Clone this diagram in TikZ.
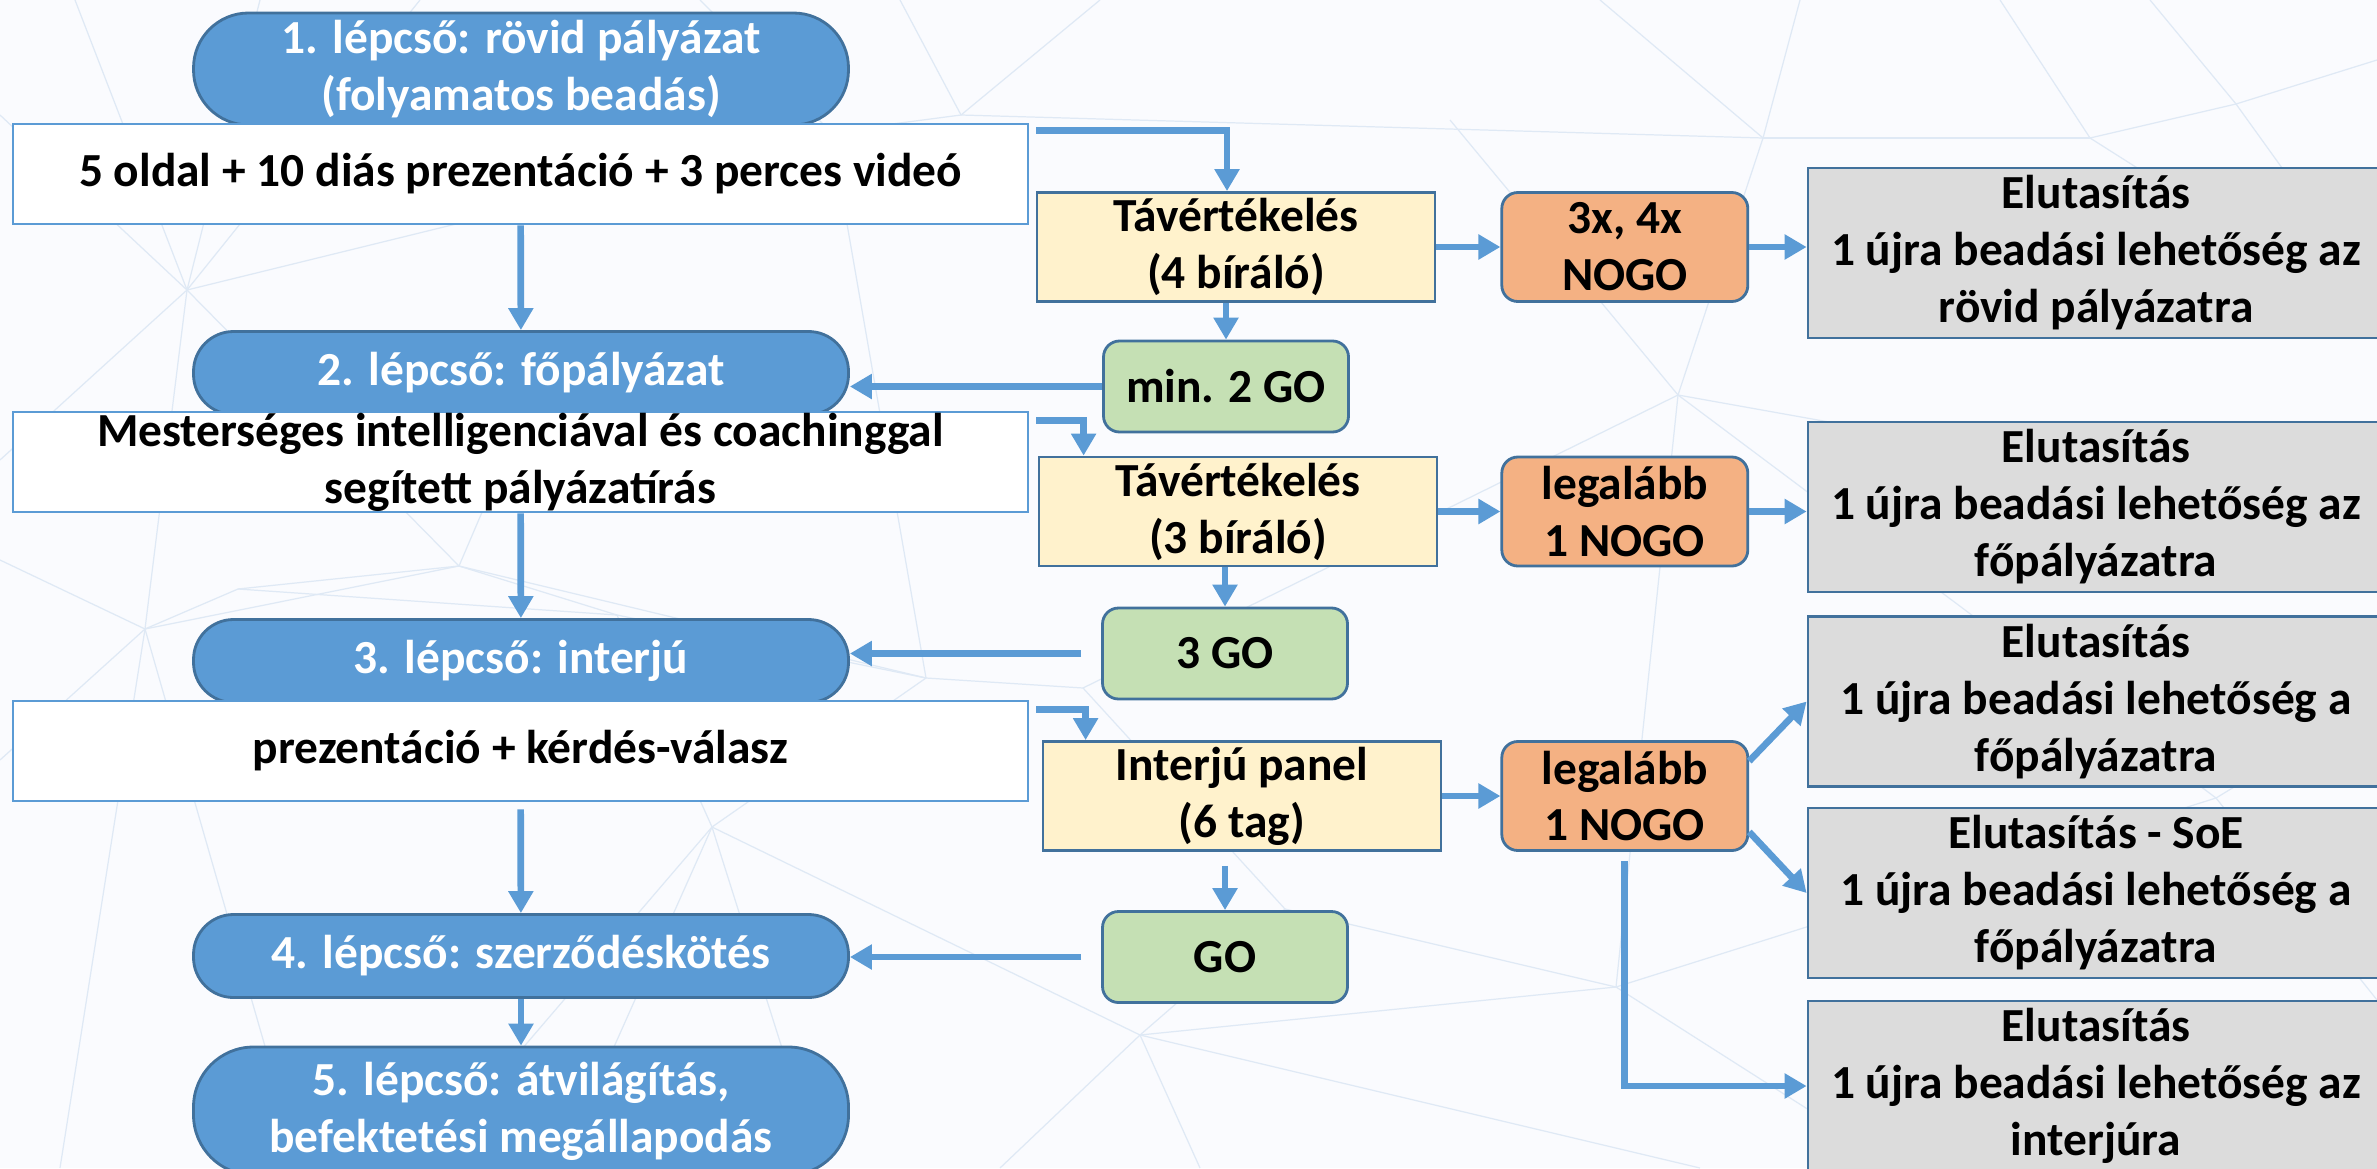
\documentclass[tikz,border=0pt]{standalone}
\usepackage{fontspec}
\setmainfont{Carlito}
\usepackage{tikz}
\usetikzlibrary{positioning,arrows.meta}

\definecolor{stageblue}{HTML}{5B9BD5}
\definecolor{frameblue}{HTML}{41719C}
\definecolor{reviewyellow}{HTML}{FFF2CC}
\definecolor{nogoorange}{HTML}{F4B183}
\definecolor{gogreen}{HTML}{C5E0B4}
\definecolor{rejectgray}{HTML}{DCDCDC}
\definecolor{paper}{HTML}{FAFBFE}
\definecolor{webblue}{HTML}{DFE9F5}

\begin{document}
\begin{tikzpicture}[x=0.1mm,y=-0.1mm,>={Triangle[length=2.2mm,width=2.4mm]},
                    font=\fontsize{13.5}{16.2}\selectfont\bfseries,
                    every node/.style={align=center,inner sep=0pt,line width=0.8pt},
                    stage/.style={draw=frameblue,fill=stageblue,text=white,rounded corners=4mm,
                                  minimum width=65.5mm,minimum height=8.3mm},
                    task/.style={draw=stageblue,fill=white,minimum width=101.5mm,minimum height=10mm},
                    review/.style={draw=frameblue,fill=reviewyellow,minimum width=39.8mm,minimum height=10.9mm},
                    nogo/.style={draw=frameblue,fill=nogoorange,rounded corners=1.6mm,
                                 minimum width=24.6mm,minimum height=10.9mm},
                    go/.style={draw=frameblue,fill=gogreen,rounded corners=1.6mm,
                               minimum width=24.5mm,minimum height=9.1mm},
                    reject/.style={draw=frameblue,fill=rejectgray,minimum width=57.6mm,minimum height=17mm},
                    webline/.style={draw=webblue,line width=0.35pt},
                    flow/.style={->,draw=stageblue,line width=1.9pt},
                    every edge/.style={flow}]

  \fill[paper] (0,0) rectangle (2377,1168);
  \useasboundingbox (0,0) rectangle (2377,1168);

  \coordinate (w1) at (187,290);   \coordinate (w2) at (145,629);
  \coordinate (w3) at (459,566);   \coordinate (w4) at (712,827);
  \coordinate (w5) at (926,678);   \coordinate (w6) at (1140,1035);
  \coordinate (w7) at (1763,138);  \coordinate (w8) at (2236,104);
  \coordinate (w9) at (2090,138);  \coordinate (w10) at (1678,395);
  \coordinate (w11) at (1616,987); \coordinate (w12) at (1285,909);
  \coordinate (w13) at (961,115);  \coordinate (w14) at (831,132);
  \coordinate (w15) at (1083,688); \coordinate (w16) at (2216,798);
  \coordinate (w17) at (238,589);  \coordinate (w18) at (617,615);
  \foreach \a/\b in {w1/{0,115},w1/{75,0},w1/{260,0},w1/{420,0},w1/{0,460},w1/w2,w1/w3,w1/w14,
                     w2/{0,560},w2/{0,760},w2/w17,w2/{60,1168},w2/{300,1168},w2/w3,
                     w17/w3,w17/w18,w3/w18,w3/{560,330},w3/w5,w18/w5,w18/w4,
                     w4/w5,w4/{420,1168},w4/{820,1168},w4/w6,w4/{560,1168},
                     w5/w15,w5/w14,w6/{1000,1168},w6/{1200,1168},w6/w12,w6/w11,w6/{1700,1168},
                     w12/w15,w12/w11,w15/w10,w11/{1900,1168},w11/w16,w11/w10,
                     w10/w7,w10/{1450,120},w10/w16,w10/{2377,520},
                     w7/{1600,0},w7/{1800,0},w7/w9,w9/w8,w9/{2377,320},w9/{2000,0},
                     w8/{2150,0},w8/{2377,60},w8/{2377,300},w16/{2377,700},w16/{2377,1000},
                     w13/w14,w13/{900,0},w13/{1100,0},w13/w7,w14/{700,0}}
    \draw[webline] (\a) -- (\b);

  \node[stage,rounded corners=5.5mm,minimum height=11.2mm] (step1) at (521,69) {1. lépcső: rövid pályázat\\(folyamatos beadás)};
  \node[task] (brief) at (520.5,174) {5 oldal + 10 diás prezentáció + 3 perces videó};
  \node[stage] (step2) at (521,373) {2. lépcső: főpályázat};
  \node[task] (mainapp) at (520.5,462) {Mesterséges intelligenciával és coachinggal\\segített pályázatírás};
  \node[stage] (step3) at (521,661) {3. lépcső: interjú};
  \node[task] (pitch) at (520.5,751) {prezentáció + kérdés-válasz};
  \node[stage] (step4) at (521,956) {4. lépcső: szerződéskötés};
  \node[stage,rounded corners=6mm,minimum height=12.8mm] (step5) at (521,1111) {5. lépcső: átvilágítás,\\befektetési megállapodás};

  \node[review] (review1) at (1236,247) {Távértékelés\\(4 bíráló)};
  \node[nogo] (nogo1) [right=6.4mm of review1] {3x, 4x\\NOGO};
  \node[reject] (reject1) at (2096,253) {Elutasítás\\1 újra beadási lehetőség az\\rövid pályázatra};
  \node[go] (go1) at (1226,386.5) {min. 2 GO};

  \node[review] (review2) at (1238,511.5) {Távértékelés\\(3 bíráló)};
  \node[nogo] (nogo2) [right=6.2mm of review2] {legalább\\1 NOGO};
  \node[reject] (reject2) at (2096,507) {Elutasítás\\1 újra beadási lehetőség az\\főpályázatra};
  \node[go] (go2) at (1225,653.5) {3 GO};

  \node[review] (review3) at (1242,796) {Interjú panel\\(6 tag)};
  \node[nogo] (nogo3) [right=5.8mm of review3] {legalább\\1 NOGO};
  \node[reject] (reject3) at (2096,701.5) {Elutasítás\\1 újra beadási lehetőség a\\főpályázatra};
  \node[reject] (reject4) at (2096,893) {Elutasítás - SoE\\1 újra beadási lehetőség a\\főpályázatra};
  \node[reject] (reject5) at (2096,1086) {Elutasítás\\1 újra beadási lehetőség az\\interjúra};
  \node[go] (go3) at (1225,957) {GO};

  \path (brief) edge (step2)
        (mainapp) edge (step3)
        (pitch) edge[shorten <=0.7mm] (step4)
        (step4) edge (step5)
        (review1) edge (nogo1)
        (nogo1.east) edge (nogo1.east -| reject1.west)
        (review1.south -| go1.north) edge (go1)
        (go1.west) edge (go1.west -| step2.east)
        (review2) edge (nogo2)
        (nogo2.east) edge (nogo2.east -| reject2.west)
        (review2.south -| go2.north) edge (go2)
        (go2.west) edge[shorten <=2mm] (go2.west -| step3.east)
        (review3) edge (nogo3)
        (review3.south -| go3.north) edge[shorten <=1.4mm] (go3)
        (go3.west) edge[shorten <=2mm] (go3.west -| step4.east)
        ([yshift=-2.1mm]nogo3.north east) edge (reject3.west)
        ([yshift=2mm]nogo3.south east) edge (reject4.west)
        ;

  \draw[flow] ([shift={(0.7mm,-0.8mm)}]brief.north east) -| ([xshift=-0.9mm]review1.north);
  \draw[flow] ([shift={(0.7mm,-1mm)}]mainapp.north east) -| ([xshift=4.6mm]review2.north west);
  \draw[flow] ([shift={(0.7mm,-1mm)}]pitch.north east) -| ([xshift=4.4mm]review3.north west);
  \draw[flow,shorten <=0.9mm] (nogo3.south) |- (reject5.west);
\end{tikzpicture}
\end{document}
